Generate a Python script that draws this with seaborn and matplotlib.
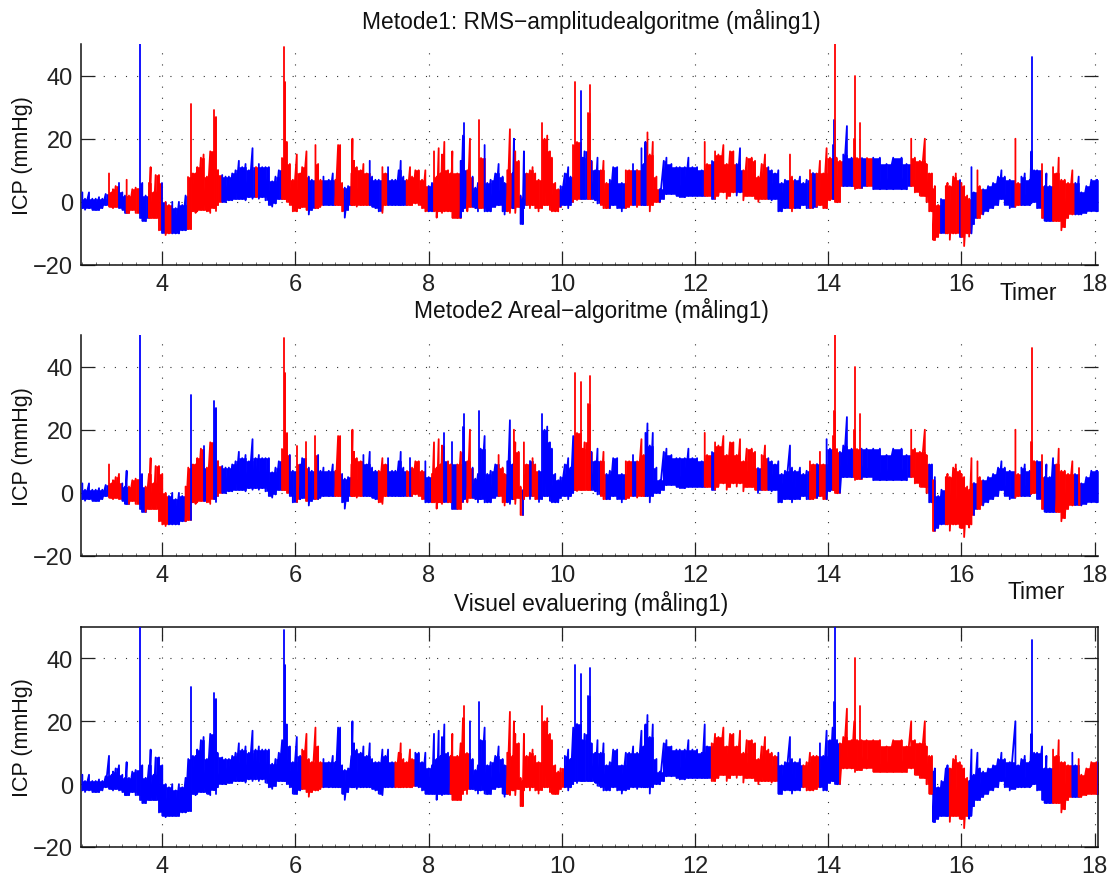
import matplotlib
matplotlib.use("Agg")
import matplotlib.pyplot as plt
import pandas as pd
import seaborn as sns
from matplotlib.ticker import MultipleLocator

# time (hours), top and bottom of the trace (mmHg)
hours = [
    2.80, 2.84, 2.90, 2.95, 3.00, 3.05, 3.10, 3.15, 3.20, 3.24, 3.26, 3.30, 3.35, 3.40, 3.44, 3.465,
    3.50, 3.55, 3.60, 3.665, 3.70, 3.75, 3.80, 3.825, 3.87, 3.90, 3.95, 4.00, 4.05, 4.10, 4.15, 4.20,
    4.25, 4.30, 4.35, 4.39, 4.425, 4.46, 4.50, 4.525, 4.58, 4.62, 4.67, 4.72, 4.77, 4.80, 4.83, 4.90,
    4.95, 5.00, 5.05, 5.10, 5.15, 5.20, 5.25, 5.30, 5.355, 5.40, 5.45, 5.50, 5.55, 5.60, 5.65, 5.70,
    5.75, 5.80, 5.825, 5.845, 5.87, 5.915, 5.96, 6.02, 6.07, 6.10, 6.165, 6.20, 6.245, 6.30, 6.34, 6.375,
    6.42, 6.50, 6.56, 6.60, 6.64, 6.67, 6.70, 6.74, 6.79, 6.84, 6.855, 6.88, 6.92, 6.98, 7.02, 7.07,
    7.115, 7.15, 7.20, 7.25, 7.305, 7.35, 7.39, 7.45, 7.50, 7.55, 7.58, 7.62, 7.67, 7.72, 7.75, 7.80,
    7.85, 7.90, 7.95, 8.00, 8.05, 8.08, 8.12, 8.15, 8.18, 8.20, 8.235, 8.29, 8.33, 8.355, 8.43, 8.48,
    8.515, 8.53, 8.58, 8.62, 8.66, 8.70, 8.74, 8.76, 8.78, 8.84, 8.88, 8.93, 9.00, 9.05, 9.11, 9.14,
    9.18, 9.22, 9.26, 9.28, 9.30, 9.35, 9.38, 9.41, 9.43, 9.47, 9.52, 9.56, 9.60, 9.65, 9.70, 9.74,
    9.78, 9.82, 9.85, 9.90, 9.945, 9.98, 10.045, 10.095, 10.13, 10.17, 10.20, 10.23, 10.28, 10.31, 10.34, 10.39,
    10.415, 10.445, 10.50, 10.535, 10.585, 10.625, 10.67, 10.72, 10.77, 10.83, 10.90, 10.96, 11.01, 11.07, 11.13, 11.195,
    11.23, 11.255, 11.285, 11.32, 11.365, 11.42, 11.47, 11.53, 11.57, 11.645, 11.72, 11.77, 11.845, 11.90, 11.96, 12.03,
    12.10, 12.145, 12.18, 12.25, 12.30, 12.35, 12.425, 12.475, 12.525, 12.575, 12.625, 12.675, 12.725, 12.775, 12.85, 12.90,
    12.95, 13.00, 13.05, 13.10, 13.15, 13.20, 13.25, 13.30, 13.35, 13.425, 13.455, 13.50, 13.575, 13.625, 13.675, 13.725,
    13.775, 13.825, 13.875, 13.925, 13.975, 14.025, 14.065, 14.085, 14.10, 14.125, 14.175, 14.225, 14.28, 14.35, 14.39, 14.405,
    14.43, 14.47, 14.50, 14.575, 14.675, 14.775, 14.875, 14.975, 15.10, 15.175, 15.245, 15.30, 15.375, 15.45, 15.475, 15.515,
    15.555, 15.575, 15.60, 15.65, 15.70, 15.765, 15.79, 15.825, 15.875, 15.915, 15.975, 16.00, 16.04, 16.085, 16.115, 16.15,
    16.185, 16.24, 16.275, 16.325, 16.40, 16.475, 16.55, 16.60, 16.65, 16.725, 16.81, 16.85, 16.90, 16.95, 17.025, 17.05,
    17.065, 17.09, 17.135, 17.21, 17.25, 17.275, 17.325, 17.375, 17.425, 17.46, 17.50, 17.55, 17.60, 17.665, 17.71, 17.76,
    17.80, 17.875, 17.95, 18.025, 18.05,
]
icp_high = [
    3, 1, 3, 1, 1, 1.5, 1, 2.5, 9, 3, 4, 5, 6, 3, 2, 7,
    2, 4, 4.5, 50, 6, 2, 6, 11, 3, 8.5, 8.5, 6, 0, -1, 0, -2,
    0, -1, 2, 8, 31, 9, 9, 11, 14, 15, 8, 16, 29, 27, 10, 8.5,
    8, 8, 9, 10, 13, 11, 12, 10, 17, 11, 12, 11, 11, 11, 6.5, 8,
    10, 14, 49, 38, 19, 12, 7, 15, 9, 11, 16, 8, 7, 18, 12, 7,
    8, 7, 9, 7, 18, 18, 6, 4.5, 5, 9, 20, 13, 11, 10, 12, 9,
    13, 8, 7, 7, 11, 9, 11, 7, 7, 10, 13, 8, 7, 11, 8, 10,
    10, 7, 10, 5, 6, 16, 8, 17, 9, 15, 19, 10, 9, 16, 9, 13,
    21, 25, 10, 20, 8, 4.5, 6, 26, 14, 18, 6, 7, 9, 12, 8, 6,
    10, 23, 9, 20, 16, 13, 2, 1, 16, 9, 10, 11, 9, 7, 25, 20,
    21, 16, 14, 6, 4, 5, 9, 11, 8, 18, 38, 19, 35, 14, 16, 28,
    37, 13, 10, 14, 10, 13, 6, 7, 11, 11, 6, 10, 10, 12, 10, 17,
    12, 19, 22, 15, 19, 8, 4, 13, 14, 12, 11, 11, 11, 14, 11, 11,
    10, 19, 12, 13, 16, 15, 18, 12, 16, 16, 12, 17, 10, 14, 14, 13,
    8, 12, 15, 11, 10, 9, 10, 6, 7, 15, 8, 7, 8, 6, 7, 10,
    9, 9, 13, 9, 17, 14, 18, 26, 50, 14, 13, 15, 24, 14, 20, 40,
    14, 25, 14, 14, 14, 14, 12, 14, 14, 12, 20, 14, 13, 20, 12, 9,
    9, 4, 5, -1, 1, 5, 6, 5, 8, 9, 7, 6, 5, 2, 1, 11,
    3, 10, 5, 4, 5, 6, 8, 10, 8, 7, 20, 6, 8, 9, 7, 16,
    46, 10, 10, 12, 5, 9, 5, 11, 9, 14, 7, 7, 6, 10, 6, 8,
    3, 5, 7, 7, 7,
]
icp_low = [
    -2, -2.5, -2, -2.5, -2.5, -2.5, -2, -1, -1.5, -1.5, -2, -1.5, -2, -2.5, -3.5, -3.5,
    -3.5, -2.5, -3.5, -5, -6, -6, -5, -5, -5, -5, -9, -10, -10.5, -10, -10, -10,
    -10, -9, -9, -8.5, -8.5, -3, -3.5, -3, -2.5, -2.5, -3, -3.5, -2, -3, -1, 0,
    0, 0.5, 0.5, 1, 1, 1, 0.5, 1.5, 1, 1.5, 1, 1.5, 0.5, -1, -1.5, -0.5,
    1, 1, 1, 1, 0, -1, -3, -3, -2, -1.5, -2.5, -4, -2.5, -2, -2, -1.5,
    -1, -1, -1, -1, -1, -1, -3, -5, -2.5, -1, -1, -1, -1.5, -1, -1, -1,
    -1, -1.5, -2, -3, -3.5, -1, -1, -1, -1, -1, -1, -1, -1, -1, -1, -0.5,
    -1, -2, -3, -3, -3, -3, -5, -3, -3, -3.5, -3, -3, -3, -5, -5, -5,
    -3, -2, -3, -1.5, -1.5, -2, -3, -2, -2, -3, -3, -3, -1.5, -1, -3, -4,
    -3, -3.5, -2, -2, -3.5, -1.5, -7, -7, -2, -1, -2, -1, -2, -3, -2, -1,
    -1, -2.5, -3, -3, -3, -1.5, -1, -2, -1, 0, 1, 0.5, 1, 1, 1, 1,
    1, 1, 0.5, -0.5, -1, -2, -2, -2, -1, -2, -3, -2, -1.5, -1, -1.5, -1,
    -1, -1, -1, -3, -1, 0, 0, 1, 2.5, 2.5, 2, 1.5, 1.5, 2, 2, 2,
    2, 2, 2, 1, 1, 2, 3, 1, 2, 3, 2, 3, 0.5, 2, 2, 1,
    0, 1, 1, 1, 0.5, 1, -3, -3, -2, -2, -3, -2, -2, -1, -2, -2,
    -2, -1.5, -1, -2, -2, 0.5, 1, 1, 0, 0, 0, 5, 5, 5, 5, 4,
    4.5, 4.5, 4.5, 5, 4, 4, 4, 4, 4, 4, 5, 3, 2, 2, 0, -3,
    -3, -12, -12, -11, -10, -10, -10, -12, -10, -10, -11, -11, -14, -10, -11, -10,
    -7, -5, -5, -4, -3, -2, -1, 1, -1, -2, -1.5, -1, -1, -1, -1, -0.5,
    0, 0, -2, -5, -6, -6, -6, -6, -6, -6, -9, -8, -5, -4, -4, -4,
    -4, -3.5, -3, -3, -3,
]

# stretches drawn red in each panel (start, end in hours)
red_metode1 = [
    (3.17, 3.33), (3.46, 3.62), (3.80, 3.96), (4.02, 4.13), (4.38, 4.90), (5.36, 5.45), (5.80, 6.17),
    (6.28, 6.40), (6.60, 6.73), (6.84, 7.08), (7.27, 7.38), (7.67, 7.97), (8.08, 8.48), (8.54, 8.65),
    (8.75, 8.83), (9.16, 9.24), (9.30, 9.38), (9.45, 9.95), (10.17, 10.25), (10.37, 10.44), (10.56, 10.68),
    (10.94, 11.05), (11.11, 11.16), (11.26, 11.43), (12.13, 12.24), (12.30, 12.60), (12.69, 13.07),
    (13.41, 13.46), (13.69, 13.76), (13.82, 14.03), (14.09, 14.18), (14.39, 14.49), (14.54, 14.58),
    (15.20, 15.66), (15.75, 15.96), (15.99, 16.15), (16.23, 16.30), (16.74, 16.87), (17.18, 17.25),
    (17.33, 17.68),
]
red_metode2 = [
    (3.16, 3.38), (3.50, 3.65), (3.73, 4.08), (4.34, 4.40), (4.45, 4.62), (4.64, 4.73), (4.82, 4.90),
    (5.80, 5.90), (6.00, 6.05), (6.14, 6.18), (6.28, 6.33), (6.60, 6.70), (6.84, 6.99), (7.23, 7.38),
    (7.65, 7.70), (7.73, 7.94), (8.04, 8.21), (8.25, 8.34), (8.38, 8.50), (8.54, 8.64), (9.04, 9.18),
    (9.28, 9.41), (9.43, 9.50), (9.54, 9.65), (10.19, 10.44), (10.55, 10.65), (10.94, 11.05), (11.10, 11.14),
    (11.18, 11.24), (12.13, 12.24), (12.29, 12.93), (12.99, 13.08), (13.69, 13.79), (13.83, 13.93),
    (14.03, 14.14), (14.38, 14.49), (15.18, 15.40), (15.45, 15.48), (15.57, 15.60), (15.72, 16.18),
    (16.23, 16.28), (16.78, 16.87), (17.03, 17.10), (17.17, 17.25), (17.38, 17.68), (17.72, 17.77),
]
red_visuel = [
    (6.10, 6.38), (7.49, 7.76), (8.32, 8.60), (9.16, 10.00), (12.20, 13.24), (13.60, 13.87),
    (14.16, 15.56), (15.80, 16.09), (17.34, 17.62), (17.76, 18.05),
]

titles = [
    "Metode1: RMS\u2212amplitudealgoritme (måling1)",
    "Metode2 Areal\u2212algoritme (måling1)",
    "Visuel evaluering (måling1)",
]
xticks = [4, 6, 8, 10, 12, 14, 16, 18]
yticks = [-20, 0, 20, 40]

sns.set_theme(style="white")
plt.rcParams["font.family"] = ["Liberation Sans", "DejaVu Sans"]
plt.rcParams["axes.unicode_minus"] = True

W, H = 1111, 878
colors = {"blue": "#0000ff", "red": "#ff0000"}


def state_of(h, intervals):
    for a, b in intervals:
        if a <= h < b:
            return "red"
    return "blue"


def draw_panel(top, bottom, red, title, title_y, boxed):
    ax = fig.add_axes([81.5 / W, 1 - bottom / H, (1098 - 81.5) / W, (bottom - top) / H])
    states = [state_of(h, red) for h in hours]

    # solid body between neighbouring samples, so spikes stay thin
    for i in range(len(hours) - 1):
        ax.fill_between(
            [hours[i], hours[i + 1]],
            max(icp_low[i], icp_low[i + 1]),
            min(icp_high[i], icp_high[i + 1]),
            color=colors[states[i]],
            lw=0.4,
            zorder=2,
        )

    # the trace swings top -> bottom at each sample, one line per colour run,
    # tall spikes get a line of their own so they stay vertical
    rows = []
    run = 0
    for i, h in enumerate(hours):
        if i > 0 and (states[i] != states[i - 1] or icp_high[i] >= 25 or icp_high[i - 1] >= 25):
            run += 1
        rows.append((run, h, icp_high[i], states[i]))
        rows.append((run, h, icp_low[i], states[i]))
    df = pd.DataFrame(rows, columns=["run", "hour", "icp", "state"])
    sns.lineplot(
        data=df, x="hour", y="icp", hue="state", units="run", estimator=None, sort=False,
        palette=colors, lw=1.3, legend=False, ax=ax, zorder=3,
    )

    ax.set_xlim(2.787, 18.05)
    ax.set_ylim(-20, 50)
    ax.set_xticks(xticks)
    ax.set_yticks(yticks)
    ax.xaxis.set_minor_locator(MultipleLocator(0.2))
    ax.set_xlabel("")
    ax.set_ylabel("ICP (mmHg)", fontsize=15.5, color="#111111")
    ax.yaxis.set_label_coords(-0.048, 0.5)
    ax.grid(True, which="major", color="#333333", lw=0.8, ls=(0, (1, 9)))
    ax.set_axisbelow(True)
    ax.tick_params(axis="both", which="major", direction="in", length=10, width=0.9,
                   labelsize=17, colors="#222222", pad=6,
                   left=True, bottom=True, right=True, top=boxed)
    ax.tick_params(axis="x", which="minor", direction="in", length=2, width=0.6,
                   bottom=True, color="#555555")
    for side in ["top", "right"]:
        ax.spines[side].set_visible(boxed)
    for sp in ax.spines.values():
        sp.set_color("#111111")
        sp.set_linewidth(1.1)
    fig.text(591 / W, 1 - title_y / H, title, ha="center", va="center", fontsize=16.4, color="#111111")
    return ax


fig = plt.figure(figsize=(W / 100, H / 100), dpi=100, facecolor="white")

ax1 = draw_panel(45, 266, red_metode1, titles[0], 22, False)
ax2 = draw_panel(336, 557, red_metode2, titles[1], 311, False)
ax3 = draw_panel(628, 848, red_visuel, titles[2], 603, True)

ax1.text(17.0, -28.6, "Timer", ha="center", va="center", fontsize=16.5, color="#111111")
ax2.text(17.12, -31.1, "Timer", ha="center", va="center", fontsize=16.5, color="#111111")

fig.savefig("out.png", dpi=100)
